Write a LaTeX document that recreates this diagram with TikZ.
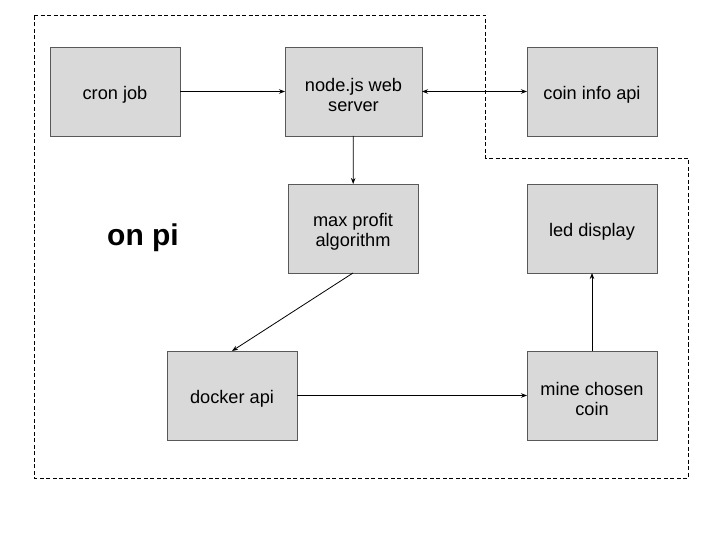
\documentclass[tikz,border=0pt]{standalone}
\usepackage{fontspec}
\setmainfont{Liberation Sans}
\usetikzlibrary{arrows.meta}
\definecolor{boxfill}{HTML}{D9D9D9}
\definecolor{boxline}{HTML}{595959}
\begin{document}
\begin{tikzpicture}[x=1pt,y=-1pt,
  box/.style={rectangle,fill=boxfill,draw=boxline,line width=0.8pt,
    minimum width=130pt,minimum height=89pt,inner sep=0pt,outer sep=0pt},
  txt/.style={inner sep=0pt,align=center,font=\fontsize{18.2}{20}\selectfont},
  conn/.style={line width=0.8pt,-{Stealth[length=6pt,width=4.5pt]}},
  region/.style={dash pattern=on 4pt off 2.5pt,line width=0.8pt}]
\useasboundingbox (0,0) rectangle (720,540);
\draw[region] (34,15) -- (485,15) -- (485,158) -- (688,158) -- (688,478) -- (34,478) -- cycle;
\node[box] (cron) at (115,91.5) {};
\node[box,minimum width=137pt] (web) at (353.5,91.5) {};
\node[box] (coin) at (592,91.5) {};
\node[box] (maxp) at (353,228.5) {};
\node[box] (led) at (592,228.5) {};
\node[box] (docker) at (232,395.5) {};
\node[box] (mine) at (592,395.5) {};
\node[txt] (tcron) at ([yshift=-3pt]cron.center) {cron job};
\node[txt] (tweb) at ([yshift=-3pt]web.center) {node.js web\\server};
\node[txt] (tcoin) at ([yshift=-3pt]coin.center) {coin info api};
\node[txt] (tmaxp) at ([yshift=-3pt]maxp.center) {max profit\\algorithm};
\node[txt] (tled) at ([yshift=-3pt]led.center) {led display};
\node[txt] (tdocker) at ([yshift=-3pt]docker.center) {docker api};
\node[txt] (tmine) at ([yshift=-3pt]mine.center) {mine chosen\\coin};
\node[inner sep=0pt,anchor=base,font=\fontsize{30}{32}\selectfont\bfseries] (onpi) at (143,245) {on pi};
\draw[conn] (cron) -- (web);
\draw[conn,{Stealth[length=6pt,width=4.5pt]}-{Stealth[length=6pt,width=4.5pt]}] (web) -- (coin);
\draw[conn] (web) -- (maxp);
\draw[conn] (maxp.south) -- (docker.north);
\draw[conn] (docker) -- (mine);
\draw[conn] (mine) -- (led);
\end{tikzpicture}
\end{document}
